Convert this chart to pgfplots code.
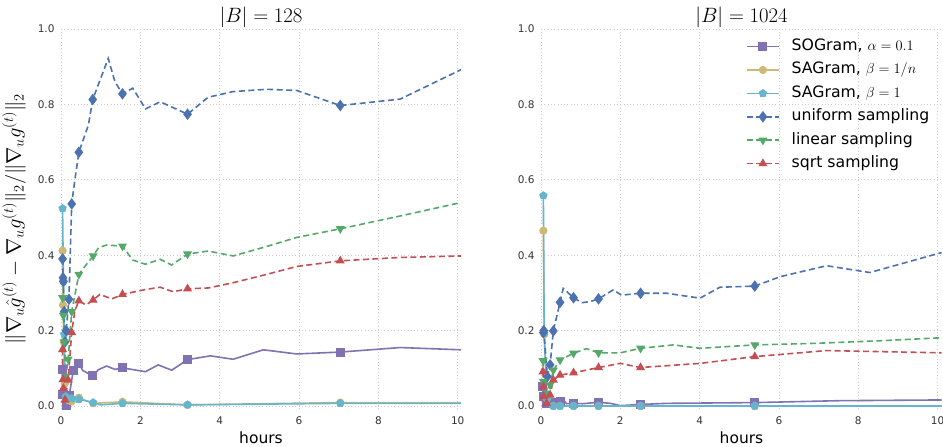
\documentclass[border=0pt]{standalone}
\usepackage[no-math]{fontspec}
\setmainfont{DejaVu Sans}
\usepackage{pgfplots}
\pgfplotsset{compat=1.18}
\usetikzlibrary{plotmarks}

\definecolor{cblue}{HTML}{4C72B0}
\definecolor{cgreen}{HTML}{55A868}
\definecolor{cred}{HTML}{C44E52}
\definecolor{cpurple}{HTML}{8172B2}
\definecolor{cyellow}{HTML}{CCB974}
\definecolor{ccyan}{HTML}{64B5CD}

\newcommand{\titlefont}{\fontsize{21}{24}\selectfont}
\newcommand{\legendfont}{\fontsize{15.7}{19}\selectfont}

\pgfplotsset{
  panel/.style={
    scale only axis, height=380pt,
    xmin=0, ymin=-0.008, ymax=1.0,
    axis line style={draw=none},
    major tick length=0pt,
    grid=major,
    grid style={line width=0.9pt, dash pattern=on 0.9pt off 2.4pt, color=black!20},
    xtick={0,2,4,6,8,10}, ytick={0,0.2,0.4,0.6,0.8,1.0},
    yticklabel style={/pgf/number format/fixed, /pgf/number format/fixed zerofill,
      /pgf/number format/precision=1, xshift=-3pt},
    xticklabel style={yshift=-4pt},
    tick label style={font=\fontsize{10.5}{12}\selectfont, color=black!80},
    /pgf/number format/assume math mode=true,
    xlabel={hours},
    xlabel style={font=\fontsize{15.5}{18}\selectfont, at={(axis description cs:0.5,-0.09)}, anchor=base},
    title style={at={(axis description cs:0.5,1)}, anchor=base, yshift=0pt, inner sep=0pt},
    every axis plot/.append style={line width=1.6pt},
    legend image code/.code={\path (0pt,0pt) (44pt,0pt);
      \draw[##1, mark indices={2}] plot coordinates {(0pt,0pt) (16pt,0pt) (32pt,0pt)};},
  },
  sogram/.style={color=cpurple, solid, mark=square*, mark size=4pt, mark options={solid, fill=cpurple, line width=1pt}},
  sagn/.style={color=cyellow, solid, mark=*, mark size=3.6pt, mark options={solid, fill=cyellow, line width=1pt}},
  sagone/.style={color=ccyan, solid, mark=pentagon*, mark size=3.8pt, mark options={solid, fill=ccyan, line width=1pt}},
  unif/.style={color=cblue, dash pattern=on 6pt off 3.5pt, mark=diamond*, mark size=5pt, mark options={solid, fill=cblue, line width=1pt}},
  lin/.style={color=cgreen, dash pattern=on 6pt off 3.5pt, mark=triangle*, mark size=4.2pt, mark options={solid, fill=cgreen, rotate=180, line width=1pt}},
  sqr/.style={color=cred, dash pattern=on 6pt off 3.5pt, mark=triangle*, mark size=4.2pt, mark options={solid, fill=cred, line width=1pt}},
}

\begin{document}
\begin{tikzpicture}
\useasboundingbox (0,0) rectangle (943pt,447pt);

% |B| = 128
\begin{axis}[panel, at={(61pt,38pt)}, anchor=south west, width=400pt, xmax=10.083,
  title={\titlefont$|B| = 128$},
  ylabel={$\|\nabla_u \hat{g}^{(t)} - \nabla_u g^{(t)}\|_2 / \|\nabla_u g^{(t)}\|_2$},
  ylabel style={at={(axis description cs:-0.1175,0.5)}, anchor=center, font=\fontsize{21}{24}\selectfont},
]
\addplot[sogram, mark indices={1,2,3,4,5,6,8,12,16,21}] coordinates {
(0.03,0.097) (0.05,0.03) (0.14,0.0) (0.21,0.029) (0.31,0.095) (0.45,0.113) (0.55,0.094)
(0.8,0.08) (0.94,0.096) (1.15,0.106) (1.36,0.097) (1.55,0.101) (2.13,0.091) (2.45,0.109)
(2.79,0.095) (3.19,0.123) (3.76,0.133) (4.34,0.124) (5.1,0.149) (5.94,0.138) (7.04,0.143)
(8.55,0.155) (10.1,0.149)};
\addplot[sagn, mark indices={1,2,3,4,5,6,7,8,9,10,11,12}] coordinates {
(0.04,0.412) (0.05,0.268) (0.07,0.17) (0.1,0.06) (0.14,0.02) (0.2,0.015) (0.27,0.012)
(0.45,0.022) (0.81,0.007) (1.55,0.011) (3.19,0.003) (7.04,0.009) (10.1,0.009)};
\addplot[sagone, mark indices={1,2,3,4,5,6,7,9,10,11}] coordinates {
(0.04,0.524) (0.06,0.33) (0.08,0.19) (0.12,0.025) (0.27,0.02) (0.45,0.018) (0.81,0.009)
(1.0,0.003) (1.55,0.007) (3.19,0.003) (7.04,0.007) (10.1,0.007)};
\addplot[unif, mark indices={1,2,3,4,5,6,7,8,10,12,15,19,24}] coordinates {
(0.04,0.39) (0.05,0.34) (0.06,0.33) (0.08,0.25) (0.1,0.17) (0.13,0.2) (0.2,0.283)
(0.27,0.536) (0.35,0.6) (0.45,0.673) (0.69,0.745) (0.8,0.813) (1.19,0.922) (1.36,0.86)
(1.55,0.828) (1.81,0.843) (2.13,0.788) (2.5,0.807) (3.19,0.774) (3.71,0.819) (4.34,0.834)
(5.18,0.84) (5.94,0.837) (7.04,0.797) (8.55,0.814) (10.1,0.893)};
\addplot[lin, mark indices={1,2,3,4,5,6,7,9,12,17,22}] coordinates {
(0.04,0.287) (0.06,0.24) (0.08,0.17) (0.12,0.078) (0.18,0.124) (0.27,0.25) (0.45,0.349)
(0.6,0.37) (0.81,0.398) (0.95,0.42) (1.15,0.427) (1.55,0.424) (1.81,0.387) (2.13,0.376)
(2.5,0.389) (2.79,0.374) (3.19,0.403) (3.71,0.411) (4.34,0.398) (5.18,0.423) (5.94,0.447)
(7.04,0.47) (8.55,0.504) (10.1,0.54)};
\addplot[sqr, mark indices={1,2,3,4,5,6,8,10,13,17,22}] coordinates {
(0.04,0.15) (0.05,0.07) (0.06,0.047) (0.1,0.016) (0.18,0.069) (0.27,0.195) (0.35,0.253)
(0.45,0.279) (0.63,0.268) (0.81,0.281) (0.98,0.296) (1.28,0.284) (1.55,0.296) (2.13,0.309)
(2.5,0.315) (2.83,0.303) (3.19,0.311) (3.71,0.313) (4.34,0.327) (5.18,0.349) (5.94,0.37)
(7.04,0.385) (8.55,0.394) (10.1,0.398)};
\end{axis}

% |B| = 1024
\begin{axis}[panel, at={(541pt,38pt)}, anchor=south west, width=401pt, xmax=10.11,
  title={\titlefont$|B| = 1024$},
  legend cell align=left,
  legend style={draw=none, fill=none, at={(axis description cs:0.511,0.985)}, anchor=north west,
    font=\legendfont, inner sep=0pt, row sep=0pt,
    nodes={inner ysep=3.7pt, inner xsep=0pt, text height=12pt, text depth=4pt}},
]
\addplot[sogram, mark indices={1,2,3,4,5,8,10,13,15}] coordinates {
(0.04,0.051) (0.06,0.025) (0.14,0.007) (0.3,0.01) (0.48,0.013) (0.56,0.016) (0.65,0.006)
(0.82,0.007) (1.05,0.006) (1.45,0.01) (1.75,0.007) (2.0,0.001) (2.51,0.004) (3.17,0.007)
(5.39,0.009) (7.5,0.014) (10.1,0.016)};
\addlegendentry{\legendfont SOGram, $\alpha = 0.1$}
\addplot[sagn, mark indices={1,2,3,4,5,6,7,8,9}] coordinates {
(0.06,0.465) (0.08,0.19) (0.15,0.02) (0.31,0.0) (0.48,0.0) (0.82,0.0) (1.45,0.0)
(2.51,0.0) (5.39,0.0) (10.1,0.0)};
\addlegendentry{\legendfont SAGram, $\beta = 1/n$}
\addplot[sagone, mark indices={1,2,3,4,5,6,7,8,9}] coordinates {
(0.06,0.558) (0.08,0.193) (0.15,0.02) (0.31,0.0) (0.48,0.0) (0.82,0.0) (1.45,0.0)
(2.51,0.0) (5.39,0.0) (10.1,0.0)};
\addlegendentry{\legendfont SAGram, $\beta = 1$}
\addplot[unif, mark indices={1,2,3,4,5,6,8,11,14,18}] coordinates {
(0.06,0.195) (0.07,0.2) (0.16,0.078) (0.23,0.109) (0.31,0.199) (0.48,0.275) (0.56,0.312)
(0.82,0.287) (1.03,0.274) (1.24,0.277) (1.45,0.284) (1.82,0.308) (2.03,0.294) (2.51,0.299)
(3.17,0.299) (4.01,0.286) (4.51,0.315) (5.39,0.318) (6.03,0.343) (7.2,0.372) (8.29,0.354)
(10.1,0.407)};
\addlegendentry{\legendfont uniform sampling}
\addplot[lin, mark indices={1,2,3,4,5,6,7,9,11,14}] coordinates {
(0.05,0.12) (0.06,0.065) (0.14,0.034) (0.23,0.056) (0.31,0.095) (0.48,0.122) (0.82,0.14)
(1.15,0.152) (1.45,0.141) (2.0,0.141) (2.51,0.153) (3.34,0.162) (4.01,0.153) (5.39,0.162)
(6.87,0.166) (8.55,0.173) (10.1,0.181)};
\addlegendentry{\legendfont linear sampling}
\addplot[sqr, mark indices={1,2,3,4,5,6,7,8,9,11,13}] coordinates {
(0.05,0.091) (0.06,0.051) (0.07,0.025) (0.14,0.007) (0.23,0.029) (0.31,0.069) (0.48,0.082)
(0.82,0.088) (1.45,0.102) (2.0,0.113) (2.51,0.102) (4.01,0.113) (5.39,0.131) (7.2,0.147)
(10.1,0.141)};
\addlegendentry{\legendfont sqrt sampling}
\end{axis}
\end{tikzpicture}
\end{document}
